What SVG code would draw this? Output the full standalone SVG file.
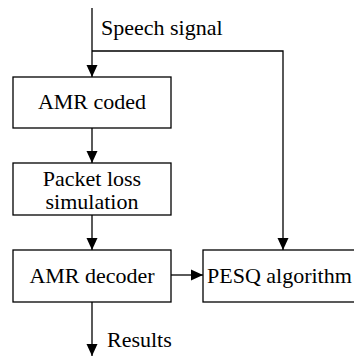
<svg xmlns="http://www.w3.org/2000/svg" width="354" height="356" viewBox="0 0 354 356">
<style>
.box{fill:#fff;stroke:#000;stroke-width:1.3}
.lbl{font-size:22px;fill:#000}
.mid{text-anchor:middle}
.ln{fill:none;stroke:#000;stroke-width:1.3}
</style>
<defs>
<marker id="ah" markerUnits="userSpaceOnUse" markerWidth="12" markerHeight="12" viewBox="0 0 12 12" refX="12" refY="6" orient="auto">
<path d="M0,0.5 L12,6 L0,11.5 Z" fill="#000"/>
</marker>
</defs>
<g font-family="'Liberation Serif', 'DejaVu Serif', serif">
<g id="connectors">
<path class="ln" d="M92,8 V77" marker-end="url(#ah)"/>
<path class="ln" d="M92,51 H283 V250" marker-end="url(#ah)"/>
<path class="ln" d="M92,128 V163" marker-end="url(#ah)"/>
<path class="ln" d="M92,215 V250" marker-end="url(#ah)"/>
<path class="ln" d="M171,275 H203" marker-end="url(#ah)"/>
<path class="ln" d="M92,302 V356" marker-end="url(#ah)"/>
<text class="lbl" x="101" y="35">Speech signal</text>
<text class="lbl" x="107" y="347">Results</text>
</g>
<g id="amr-coded">
<rect class="box" x="13" y="77" width="158" height="51"/>
<text class="lbl mid" x="92" y="109">AMR coded</text>
</g>
<g id="packet-loss">
<rect class="box" x="13" y="163" width="158" height="52"/>
<text class="lbl mid" x="92" y="186">Packet loss</text>
<text class="lbl mid" x="92" y="209">simulation</text>
</g>
<g id="amr-decoder">
<rect class="box" x="13" y="250" width="158" height="52"/>
<text class="lbl mid" x="92" y="283">AMR decoder</text>
</g>
<g id="pesq">
<rect class="box" x="203" y="250" width="160" height="52"/>
<text class="lbl" x="207" y="283">PESQ algorithm</text>
</g>
</g>
</svg>
